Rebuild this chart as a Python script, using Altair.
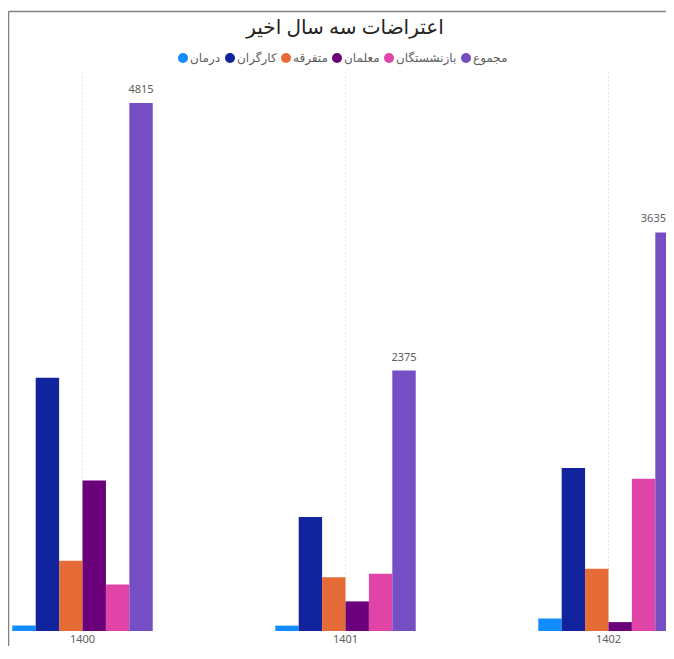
import altair as alt
import pandas as pd

years = ["1400", "1401", "1402"]
series = ["درمان", "کارگران", "متفرقه", "معلمان", "بازنشستگان", "مجموع"]
colors = ["#118DFF", "#12239E", "#E66C37", "#6B007B", "#E044A7", "#744EC2"]

darman = [51, 49, 114]
kargaran = [2310, 1040, 1487]
motafarreghe = [640, 490, 568]
moalleman = [1372, 270, 81]
bazneshastegan = [425, 522, 1388]
majmoo = [4815, 2375, 3635]

rows = []
for name, vals in zip(series, [darman, kargaran, motafarreghe, moalleman, bazneshastegan, majmoo]):
    for yr, v in zip(years, vals):
        rows.append({"year": yr, "series": name, "value": v})
df = pd.DataFrame(rows)

FONT = "'Noto Sans', 'DejaVu Sans', sans-serif"

x_enc = alt.X(
    "year:N", sort=years, title=None,
    scale=alt.Scale(range=[2.3, 668.7], paddingInner=0.466, paddingOuter=0),
    axis=alt.Axis(domain=False, ticks=False, labelAngle=0, labelPadding=2,
                  labelFontSize=11, labelColor="#605e5c", labelFont=FONT,
                  grid=True, gridDash=[1, 3], gridColor="#d0d0d0", gridWidth=1,
                  bandPosition=0.5),
)
xo_enc = alt.XOffset("series:N", sort=series, scale=alt.Scale(paddingInner=0, paddingOuter=0))
y_enc = alt.Y("value:Q", scale=alt.Scale(domain=[0, 5098], nice=False), axis=None)

base = alt.Chart(df)

bars = base.mark_bar().encode(
    x=x_enc,
    xOffset=xo_enc,
    y=y_enc,
    color=alt.Color(
        "series:N", sort=series,
        scale=alt.Scale(domain=series, range=colors),
        legend=alt.Legend(
            title=None, orient="none", legendX=167, legendY=-20,
            direction="horizontal", symbolType="circle", symbolSize=100,
            symbolStrokeWidth=0, labelFontSize=12, labelColor="#605e5c",
            labelFont=FONT, columnPadding=3, labelOffset=1,
        ),
    ),
)

# data labels of the total series (kept inside the plot, as Power BI does)
labels_in = base.mark_text(dy=-10, baseline="alphabetic", fontSize=11,
                           color="#605e5c", font=FONT).encode(
    x=x_enc, xOffset=xo_enc, y=y_enc, text="value:Q"
).transform_filter(
    (alt.datum.series == "مجموع") & (alt.datum.year != "1402")
)
labels_edge = base.mark_text(dy=-10, dx=-1, align="right", baseline="alphabetic",
                             fontSize=11, color="#605e5c", font=FONT).encode(
    x=x_enc, xOffset=xo_enc, y=y_enc, text="value:Q"
).transform_filter(
    (alt.datum.series == "مجموع") & (alt.datum.year == "1402")
)

frame_df = pd.DataFrame({"k": [0]})
top_rule = alt.Chart(frame_df).mark_rule(color="#808080", strokeWidth=1.5).encode(
    x=alt.value(-1.5), x2=alt.value(700), y=alt.value(-60.5)
)
left_rule = alt.Chart(frame_df).mark_rule(color="#808080", strokeWidth=1.5).encode(
    x=alt.value(-1.5), y=alt.value(-60.5), y2=alt.value(640)
)

chart = alt.layer(bars, labels_in, labels_edge, top_rule, left_rule).properties(
    width=656, height=559,
    background="white",
    title=alt.TitleParams("اعتراضات سه سال اخیر", anchor="middle", fontSize=20,
                          fontWeight="normal", color="#252423", font=FONT,
                          offset=-27, dx=7),
    autosize=alt.AutoSizeParams(type="none"),
    padding={"left": 2, "top": 64, "right": 0, "bottom": 15},
).configure_view(stroke="transparent", strokeWidth=0)

chart.save("out.html", embed_options={"renderer": "svg", "actions": False})
